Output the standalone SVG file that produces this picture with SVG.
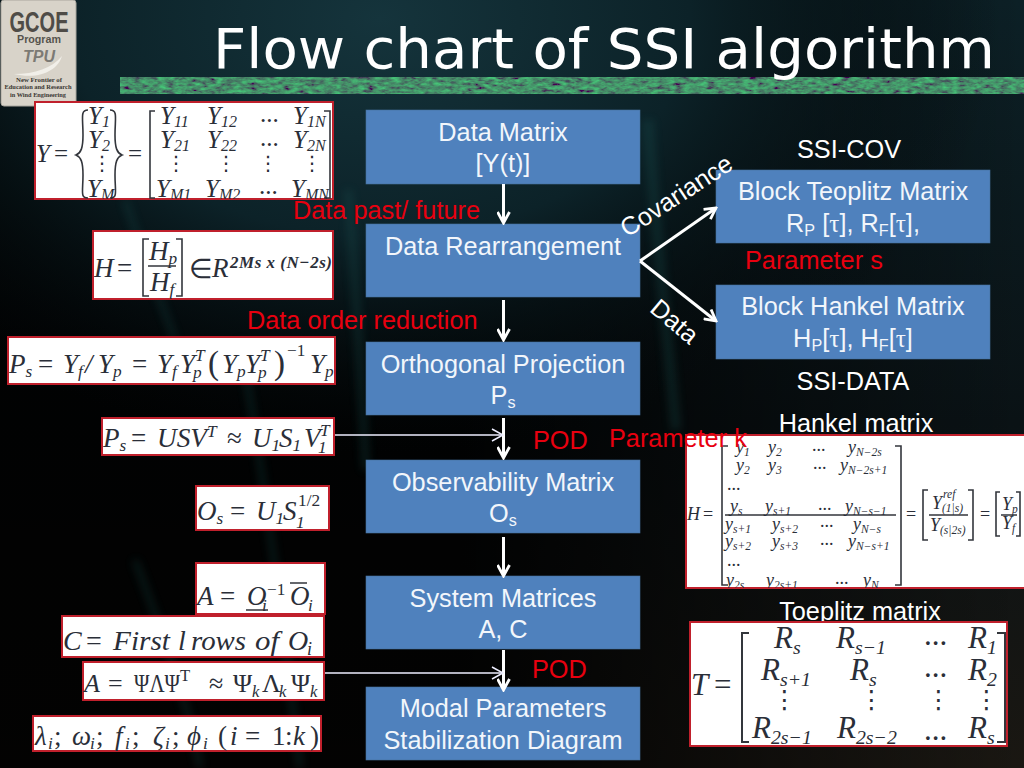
<svg xmlns="http://www.w3.org/2000/svg" width="1024" height="768" viewBox="0 0 1024 768">
<style>
text{font-family:"Liberation Sans",Arial,sans-serif}
.node rect{fill:#4f81bd;stroke:#46729f;stroke-width:.6}
.nt{fill:#f2f6fb;font-size:25.3px;text-anchor:middle}
.lab{fill:#fff;font-size:25.3px;text-anchor:middle}
.red{fill:#e8000f;font-size:25.3px}
.arrow{stroke:#fff;stroke-width:3;fill:none}
.thin{stroke:#eef;stroke-width:1.6;fill:none}
.box{fill:#fff;stroke:#c0202c;stroke-width:2}
.m text,text.m{font-family:"Liberation Serif","Times New Roman",serif;font-style:italic;fill:#2a2e38}
.m text.u{font-style:normal}
.s{font-size:.64em}
.br{stroke:#33363c;stroke-width:1.6;fill:none}
.dot{font-family:"DejaVu Sans",sans-serif !important;font-style:normal !important;font-size:.8em}
.sm{font-size:6.4px;text-anchor:middle;fill:#3a3833;font-family:"Liberation Serif",serif;font-weight:bold}
</style>
<defs>
<radialGradient id="bgTop" gradientUnits="userSpaceOnUse" cx="380" cy="20" r="620" gradientTransform="matrix(1 0 0 .7 0 5)">
<stop offset="0" stop-color="#15343c"/><stop offset=".5" stop-color="#0c2228"/><stop offset="1" stop-color="#04090b" stop-opacity="0"/>
</radialGradient>
<linearGradient id="bgR" x1="0" y1="0" x2="0" y2="1">
<stop offset="0" stop-color="#0c2026"/><stop offset=".55" stop-color="#0a1215"/><stop offset="1" stop-color="#1a1712"/>
</linearGradient>
<linearGradient id="bgFade" x1="0" y1="0" x2="1" y2="0">
<stop offset="0" stop-color="#000"/><stop offset=".45" stop-color="#000"/><stop offset="1" stop-color="#000" stop-opacity="0"/>
</linearGradient>
<filter id="blur" x="-30%" y="-10%" width="160%" height="120%"><feGaussianBlur stdDeviation="4"/></filter>
<filter id="moss" x="0" y="0" width="100%" height="100%">
<feTurbulence type="fractalNoise" baseFrequency=".12 .3" numOctaves="3" seed="7"/>
<feColorMatrix values="0 0 0 0 .06  .6 .6 0 0 -.32  .1 .1 0 0 .04  0 0 0 0 1"/>
<feComposite in2="SourceGraphic" operator="in"/>
</filter>
<marker id="open" viewBox="0 0 14 14" refX="12" refY="7" markerWidth="14" markerHeight="14" markerUnits="userSpaceOnUse" orient="auto"><path d="M1 1L12 7L1 13" fill="none" stroke="#fff" stroke-width="2.8"/></marker>
<marker id="openThin" viewBox="0 0 14 14" refX="12" refY="7" markerWidth="14" markerHeight="14" markerUnits="userSpaceOnUse" orient="auto"><path d="M1 1L12 7L1 13" fill="none" stroke="#eef" stroke-width="1.5"/></marker>
<clipPath id="c1"><rect x="35" y="102" width="298" height="97"/></clipPath>
<clipPath id="c2"><rect x="93" y="231" width="240" height="68"/></clipPath>
<clipPath id="cH"><rect x="686" y="435" width="338" height="153"/></clipPath>
</defs>

<g id="background">
<rect width="1024" height="768" fill="url(#bgR)"/>
<rect width="1024" height="768" fill="url(#bgFade)" opacity=".9"/>
<rect width="1024" height="768" fill="url(#bgTop)"/>
<g filter="url(#blur)" fill="none" stroke="#1a5a58" opacity=".28">
<path d="M348 190C356 280 362 400 366 470" stroke-width="8"/>
<path d="M648 120C656 240 668 340 676 430" stroke-width="10"/>
<path d="M135 560C165 640 190 710 200 768" stroke-width="6"/>
<path d="M240 340C265 480 285 640 300 768" stroke-width="6"/>
<path d="M125 200C145 260 160 300 175 340" stroke-width="6"/>
</g>
</g>

<rect id="band" x="120" y="77" width="904" height="17" fill="#fff" filter="url(#moss)"/>
<g id="logo">
<rect x="1" y="0" width="75" height="106" rx="3" fill="#d8d3c9" stroke="#a9a69e"/>
<text x="39" y="32" text-anchor="middle" font-size="29" font-weight="bold" fill="#4f4c47" textLength="59" lengthAdjust="spacingAndGlyphs">GCOE</text>
<text x="39" y="43" text-anchor="middle" font-size="11" font-weight="bold" fill="#56534d" textLength="44" lengthAdjust="spacingAndGlyphs">Program</text>
<text x="39" y="62" text-anchor="middle" font-size="16" font-weight="bold" font-style="italic" fill="#7c7a74">TPU</text>
<path d="M14 74C35 74 52 68 62 56C58 70 40 80 14 74Z" fill="#f1efe9"/>
<text class="sm" x="39" y="82" textLength="46" lengthAdjust="spacingAndGlyphs">New Frontier of</text>
<text class="sm" x="38" y="89" textLength="67" lengthAdjust="spacingAndGlyphs">Education and Research</text>
<text class="sm" x="38" y="97" textLength="56" lengthAdjust="spacingAndGlyphs">in Wind Engineering</text>
</g>
<text id="title" x="213" y="68" fill="#fff" font-size="55" style="font-family:'DejaVu Sans',sans-serif" textLength="782" lengthAdjust="spacingAndGlyphs">Flow chart of SSI algorithm</text>

<g id="labels-top">
<text class="lab" x="849" y="158">SSI-COV</text>
<text class="lab" x="853" y="390">SSI-DATA</text>
<text class="lab" x="856" y="432">Hankel matrix</text>
<text class="lab" x="860" y="620">Toeplitz matrix</text>
</g>

<g id="node-data-matrix" class="node"><rect x="366" y="110" width="274" height="74"/><text class="nt" x="503" y="141">Data Matrix</text><text class="nt" x="503" y="172">[Y(t)]</text></g>
<g id="node-rearrangement" class="node"><rect x="366" y="224" width="274" height="73"/><text class="nt" x="503" y="255">Data Rearrangement</text></g>
<g id="node-projection" class="node"><rect x="366" y="342" width="274" height="73"/><text class="nt" x="503" y="373">Orthogonal Projection</text><text class="nt" x="503" y="404">P<tspan class="s" dy="4">s</tspan></text></g>
<g id="node-observability" class="node"><rect x="366" y="460" width="274" height="73"/><text class="nt" x="503" y="491">Observability Matrix</text><text class="nt" x="503" y="522">O<tspan class="s" dy="4">s</tspan></text></g>
<g id="node-system" class="node"><rect x="366" y="576" width="274" height="73"/><text class="nt" x="503" y="607">System Matrices</text><text class="nt" x="503" y="638">A, C</text></g>
<g id="node-modal" class="node"><rect x="366" y="687" width="274" height="73"/><text class="nt" x="503" y="717">Modal Parameters</text><text class="nt" x="503" y="749">Stabilization Diagram</text></g>
<g id="node-toeplitz" class="node"><rect x="716" y="170" width="274" height="73"/><text class="nt" x="853" y="200">Block Teoplitz Matrix</text><text class="nt" x="853" y="232">R<tspan class="s" dy="4">P</tspan><tspan dy="-4"> [</tspan><tspan style="font-family:'Liberation Serif',serif">τ</tspan>], R<tspan class="s" dy="4">F</tspan><tspan dy="-4">[</tspan><tspan style="font-family:'Liberation Serif',serif">τ</tspan>],</text></g>
<g id="node-hankel" class="node"><rect x="716" y="285" width="274" height="74"/><text class="nt" x="853" y="315">Block Hankel Matrix</text><text class="nt" x="853" y="347">H<tspan class="s" dy="4">P</tspan><tspan dy="-4">[</tspan><tspan style="font-family:'Liberation Serif',serif">τ</tspan>], H<tspan class="s" dy="4">F</tspan><tspan dy="-4">[</tspan><tspan style="font-family:'Liberation Serif',serif">τ</tspan>]</text></g>

<g id="labels-rotated">
<text class="lab" transform="translate(681 203) rotate(-33)">Covariance</text>
<text class="lab" transform="translate(669 328) rotate(40)">Data</text>
</g>

<g id="connectors">
<path class="arrow" marker-end="url(#open)" d="M503.5 184V223"/>
<path class="arrow" marker-end="url(#open)" d="M503.5 300V340"/>
<path class="arrow" marker-end="url(#open)" d="M503.5 418V458"/>
<path class="arrow" marker-end="url(#open)" d="M503.5 537V576"/>
<path class="arrow" marker-end="url(#open)" d="M503.5 650V690"/>
<path class="arrow" marker-end="url(#open)" d="M640 261L716 208"/>
<path class="arrow" marker-end="url(#open)" d="M640 261L716 321"/>
<path class="thin" marker-end="url(#openThin)" d="M334 435H503"/>
<path class="thin" marker-end="url(#openThin)" d="M325 673H503"/>
</g>

<g id="eq-y" class="m" font-size="25">
<rect class="box" x="35" y="102" width="298" height="97"/>
<g clip-path="url(#c1)">
<text x="36" y="162">Y</text><text class="u" x="54" y="162">=</text>
<path class="br" d="M88 110C80 110 83 118 83 135C83 148 81 153 76 155C81 157 83 162 83 175C83 192 80 198 88 198"/>
<path class="br" d="M110 110C118 110 115 118 115 135C115 148 117 153 122 155C117 157 115 162 115 175C115 192 118 198 110 198"/>
<text x="88" y="124">Y<tspan class="s" dy="3">1</tspan></text><text x="88" y="148">Y<tspan class="s" dy="3">2</tspan></text><text class="dot" x="92" y="170">⋮</text><text x="87" y="197">Y<tspan class="s" dy="3">M</tspan></text>
<text class="u" x="128" y="162">=</text>
<path class="br" d="M155 111H150V198H155M324 111H330V198H324"/>
<text x="160" y="124">Y<tspan class="s" dy="3">11</tspan></text><text x="207" y="124">Y<tspan class="s" dy="3">12</tspan></text><text class="u" x="260" y="122">...</text><text x="293" y="124">Y<tspan class="s" dy="3">1N</tspan></text>
<text x="160" y="148">Y<tspan class="s" dy="3">21</tspan></text><text x="207" y="148">Y<tspan class="s" dy="3">22</tspan></text><text class="u" x="260" y="146">...</text><text x="293" y="148">Y<tspan class="s" dy="3">2N</tspan></text>
<text class="dot" x="166" y="170">⋮</text><text class="dot" x="216" y="170">⋮</text><text class="dot" x="258" y="170">⋮</text><text class="dot" x="302" y="170">⋮</text>
<text x="156" y="197">Y<tspan class="s" dy="3">M1</tspan></text><text x="205" y="197">Y<tspan class="s" dy="3">M2</tspan></text><text class="u" x="259" y="194">...</text><text x="291" y="197">Y<tspan class="s" dy="3">MN</tspan></text>
</g>
</g>

<g id="eq-h" class="m" font-size="27">
<rect class="box" x="93" y="231" width="240" height="68"/>
<g clip-path="url(#c2)">
<text x="94" y="277">H</text><text class="u" x="117" y="277">=</text>
<path class="br" d="M149 239H143V296H149M176 239H182V296H176M148 266H176"/>
<text x="149" y="260">H<tspan class="s" dy="4" font-size="17">p</tspan></text><text x="150" y="291">H<tspan class="s" dy="4" font-size="17">f</tspan></text>
<text class="u" x="189" y="278">∈</text><text x="212" y="277">R</text>
<text x="230" y="268" font-size="17" font-weight="bold" textLength="102">2Ms x (N−2s)</text>
</g>
</g>

<g id="eq-ps1" class="m" font-size="27">
<rect class="box" x="8" y="337" width="327" height="47"/>
<text x="9" y="373">P<tspan class="s" dy="4">s</tspan></text><text class="u" x="38" y="373">=</text>
<text x="63" y="373">Y<tspan class="s" dy="4">f</tspan></text><text x="85" y="373">/</text><text x="98" y="373">Y<tspan class="s" dy="4">p</tspan></text>
<text class="u" x="132" y="373">=</text>
<text x="157" y="373">Y<tspan class="s" dy="4">f</tspan></text><text x="180" y="373">Y</text><text class="s" x="193" y="378">p</text><text class="s" x="195" y="361">T</text>
<text class="u" x="208" y="374" font-size="33">(</text>
<text x="222" y="373">Y<tspan class="s" dy="4">p</tspan></text><text x="245" y="373">Y</text><text class="s" x="258" y="378">p</text><text class="s" x="260" y="361">T</text>
<text class="u" x="274" y="374" font-size="33">)</text><text class="u s" x="287" y="356">−1</text>
<text x="310" y="373">Y<tspan class="s" dy="4">p</tspan></text>
</g>

<g id="eq-ps2" class="m" font-size="27">
<rect class="box" x="102" y="418" width="232" height="37"/>
<text x="103" y="447">P<tspan class="s" dy="4">s</tspan></text><text class="u" x="131" y="447">=</text>
<text x="157" y="447" textLength="50" lengthAdjust="spacingAndGlyphs">USV</text><text class="s" x="207" y="437">T</text>
<text class="u" x="227" y="447">≈</text>
<text x="252" y="447">U<tspan class="s" dy="4">1</tspan></text><text x="279" y="447">S<tspan class="s" dy="4">1</tspan></text><text x="304" y="447">V</text><text class="s" x="318" y="453">1</text><text class="s" x="320" y="436">T</text>
</g>

<g id="eq-os" class="m" font-size="27">
<rect class="box" x="196" y="486" width="133" height="44"/>
<text x="197" y="520">O<tspan class="s" dy="4">s</tspan></text><text class="u" x="230" y="520">=</text>
<text x="256" y="520">U<tspan class="s" dy="4">1</tspan></text><text x="283" y="520">S</text><text class="s" x="296" y="528">1</text><text class="s u" x="298" y="506">1/2</text>
</g>

<g id="eq-a" class="m" font-size="27">
<rect class="box" x="196" y="563" width="129" height="51"/>
<text x="197" y="605">A</text><text class="u" x="220" y="605">=</text>
<text x="247" y="605">O</text><path class="br" d="M246 610H268M290 583H307"/><text class="s" x="262" y="611">i</text><text class="s u" x="267" y="595">−1</text>
<text x="290" y="605">O</text><text class="s" x="308" y="611">i</text>
</g>

<g id="eq-c" class="m" font-size="28">
<rect class="box" x="62" y="616" width="262" height="41"/>
<text x="63" y="650">C</text><text class="u" x="86" y="650">=</text>
<text x="113" y="650" textLength="57" lengthAdjust="spacingAndGlyphs">First</text><text x="178" y="650">l</text><text x="191" y="650" textLength="55" lengthAdjust="spacingAndGlyphs">rows</text><text x="255" y="650" textLength="24" lengthAdjust="spacingAndGlyphs">of</text><text x="288" y="650">O</text><text class="s" x="307" y="655">i</text>
</g>

<g id="eq-a2" class="m" font-size="26">
<rect class="box" x="83" y="662" width="241" height="38"/>
<text x="84" y="692">A</text><text class="u" x="108" y="692">=</text>
<text class="u" x="134" y="692" textLength="46" lengthAdjust="spacingAndGlyphs">ΨΛΨ</text><text class="u s" x="180" y="681">T</text>
<text class="u" x="209" y="692">≈</text>
<text class="u" x="233" y="692">Ψ</text><text class="s" x="252" y="697">k</text><text class="u" x="262" y="692">Λ</text><text class="s" x="279" y="697">k</text><text class="u" x="291" y="692">Ψ</text><text class="s" x="310" y="697">k</text>
</g>

<g id="eq-modal" class="m" font-size="27">
<rect class="box" x="33" y="716" width="288" height="35"/>
<text x="35" y="745">λ</text><text class="s" x="48" y="749">i</text><text class="u" x="54" y="745">;</text>
<text x="72" y="745">ω</text><text class="s" x="90" y="749">i</text><text class="u" x="96" y="745">;</text>
<text x="115" y="745">f</text><text class="s" x="125" y="749">i</text><text class="u" x="132" y="745">;</text>
<text x="153" y="745">ζ</text><text class="s" x="165" y="749">i</text><text class="u" x="172" y="745">;</text>
<text x="187" y="745">ϕ</text><text class="s" x="203" y="749">i</text>
<text class="u" x="218" y="745">(</text><text x="230" y="745">i</text><text class="u" x="245" y="745">=</text><text class="u" x="272" y="745">1</text><text class="u" x="285" y="745">:</text><text x="293" y="745">k</text><text class="u" x="310" y="745">)</text>
</g>

<g id="eq-hankel" class="m" font-size="18">
<rect class="box" x="686" y="435" width="339" height="153"/>
<g clip-path="url(#cH)">
<text x="687" y="520">H</text><text class="u" x="703" y="520">=</text>
<path class="br" d="M728 446H722V585H728M895 446H901V585H895M725 515H896"/>
<text x="736" y="453">y<tspan class="s" dy="3">1</tspan></text><text x="768" y="453">y<tspan class="s" dy="3">2</tspan></text><text class="u" x="812" y="451">...</text><text x="848" y="453">y<tspan class="s" dy="3">N−2s</tspan></text>
<text x="736" y="471">y<tspan class="s" dy="3">2</tspan></text><text x="768" y="471">y<tspan class="s" dy="3">3</tspan></text><text class="u" x="813" y="469">...</text><text x="840" y="471">y<tspan class="s" dy="3">N−2s+1</tspan></text>
<text class="u" x="727" y="490">...</text>
<text x="730" y="512">y<tspan class="s" dy="3">s</tspan></text><text x="765" y="512">y<tspan class="s" dy="3">s+1</tspan></text><text class="u" x="818" y="510">...</text><text x="845" y="512">y<tspan class="s" dy="3">N−s−1</tspan></text>
<text x="725" y="530">y<tspan class="s" dy="3">s+1</tspan></text><text x="772" y="530">y<tspan class="s" dy="3">s+2</tspan></text><text class="u" x="820" y="527">...</text><text x="853" y="530">y<tspan class="s" dy="3">N−s</tspan></text>
<text x="725" y="547">y<tspan class="s" dy="3">s+2</tspan></text><text x="772" y="547">y<tspan class="s" dy="3">s+3</tspan></text><text class="u" x="820" y="545">...</text><text x="848" y="547">y<tspan class="s" dy="3">N−s+1</tspan></text>
<text class="u" x="727" y="566">...</text>
<text x="726" y="586">y<tspan class="s" dy="3">2s</tspan></text><text x="766" y="586">y<tspan class="s" dy="3">2s+1</tspan></text><text class="u" x="835" y="584">...</text><text x="863" y="586">y<tspan class="s" dy="3">N</tspan></text>
<text class="u" x="906" y="520">=</text>
<path class="br" d="M928 490H923V540H928M968 490H973V540H968M929 515H968"/>
<text x="932" y="509">Y</text><text class="s" x="943" y="498">ref</text><text class="s" x="942" y="512">(1|s)</text>
<text x="930" y="531">Y<tspan class="s" dy="3">(s|2s)</tspan></text>
<text class="u" x="980" y="520">=</text>
<path class="br" d="M1000 492H996V536H1000M1016 492H1020V536H1016M1001 515H1017"/>
<text x="1002" y="510">Y<tspan class="s" dy="3">p</tspan></text><text x="1002" y="529">Y<tspan class="s" dy="3">f</tspan></text>
</g>
</g>

<g id="eq-toeplitz" class="m" font-size="31">
<rect class="box" x="690" y="622" width="317" height="124"/>
<text x="691" y="695">T</text><text class="u" x="714" y="695">=</text>
<path class="br" d="M749 633H742V742H749M997 633H1005V742H997" style="stroke-width:2"/>
<text x="774" y="648">R<tspan class="s" dy="6">s</tspan></text><text x="836" y="648">R<tspan class="s" dy="6">s−1</tspan></text><text class="u" x="924" y="645">...</text><text x="968" y="648">R<tspan class="s" dy="6">1</tspan></text>
<text x="761" y="680">R<tspan class="s" dy="6">s+1</tspan></text><text x="850" y="680">R<tspan class="s" dy="6">s</tspan></text><text class="u" x="924" y="677">...</text><text x="968" y="680">R<tspan class="s" dy="6">2</tspan></text>
<text class="dot" x="772" y="708">⋮</text><text class="dot" x="859" y="708">⋮</text><text class="dot" x="926" y="708">⋮</text><text class="dot" x="974" y="708">⋮</text>
<text x="752" y="738">R<tspan class="s" dy="6">2s−1</tspan></text><text x="837" y="738">R<tspan class="s" dy="6">2s−2</tspan></text><text class="u" x="924" y="740">...</text><text x="968" y="738">R<tspan class="s" dy="6">s</tspan></text>
</g>

<g id="labels-red">
<text class="red" x="293" y="219">Data past/ future</text>
<text class="red" x="247" y="329">Data order reduction</text>
<text class="red" x="745" y="269">Parameter s</text>
<text class="red" x="533" y="449">POD</text>
<text class="red" x="609" y="447">Parameter k</text>
<text class="red" x="532" y="678">POD</text>
</g>
</svg>
